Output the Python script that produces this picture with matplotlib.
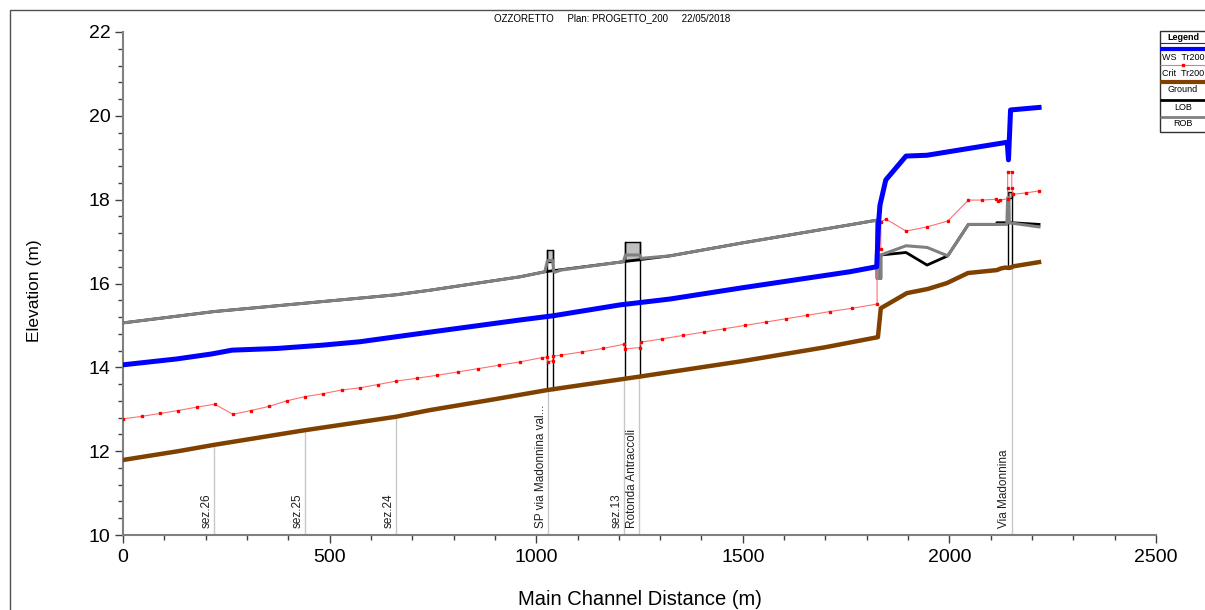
import matplotlib
matplotlib.use("Agg")
import matplotlib.pyplot as plt
from matplotlib.patches import Rectangle

plt.rcParams['font.family'] = ['Liberation Sans', 'DejaVu Sans']

# --- profile data (main channel distance, elevation) ---
ws_x = [0, 130, 215, 264, 372, 484, 573, 654, 743, 961, 1041, 1203, 1324, 1500,
        1759, 1824, 1829, 1832, 1846, 1895, 1946, 2046, 2140, 2143, 2148, 2217]
ws_y = [14.06, 14.20, 14.32, 14.41, 14.45, 14.53, 14.61, 14.72, 14.84, 15.13, 15.23,
        15.49, 15.63, 15.90, 16.28, 16.40, 17.50, 17.87, 18.47, 19.04, 19.06, 19.22,
        19.37, 18.95, 20.14, 20.20]

crit_x = [0, 45, 90, 134, 178, 222, 266, 310, 354, 396, 440, 484, 529, 573, 617, 660,
          711, 760, 810, 860, 910, 961, 1013, 1027, 1028, 1040, 1041, 1060, 1112, 1161,
          1212, 1214, 1250, 1253, 1305, 1355, 1405, 1455, 1505, 1555, 1605, 1655, 1710,
          1765, 1825, 1825, 1834, 1834, 1846, 1895, 1946, 1996, 2046, 2079, 2113, 2117,
          2122, 2141, 2141, 2141, 2151, 2151, 2154, 2185, 2217]
crit_y = [12.77, 12.83, 12.90, 12.97, 13.05, 13.12, 12.88, 12.97, 13.07, 13.20, 13.30,
          13.37, 13.46, 13.51, 13.59, 13.67, 13.74, 13.81, 13.89, 13.97, 14.05, 14.13,
          14.23, 14.25, 14.13, 14.16, 14.27, 14.29, 14.37, 14.45, 14.55, 14.44, 14.47,
          14.60, 14.68, 14.76, 14.84, 14.92, 15.00, 15.08, 15.16, 15.24, 15.33, 15.41,
          15.51, 16.80, 16.82, 17.47, 17.54, 17.25, 17.35, 17.49, 17.99, 17.99, 18.01,
          17.98, 17.99, 18.02, 18.27, 18.67, 18.67, 18.27, 18.13, 18.16, 18.21]

ground_x = [0, 134, 220, 440, 660, 743, 900, 1028, 1251, 1500, 1700, 1827, 1834, 1897,
            1948, 1994, 2045, 2115, 2125, 2135, 2145, 2155, 2217]
ground_y = [11.79, 12.00, 12.15, 12.50, 12.82, 12.98, 13.24, 13.46, 13.78, 14.15, 14.48,
            14.72, 15.41, 15.77, 15.87, 16.01, 16.25, 16.32, 16.36, 16.38, 16.37, 16.41,
            16.51]

lob_x = [0, 220, 440, 660, 743, 961, 1021, 1211, 1324, 1500, 1759, 1824, 1825, 1834,
         1834, 1895, 1946, 1996, 2046, 2113, 2115, 2151, 2217]
lob_y = [15.06, 15.33, 15.53, 15.73, 15.84, 16.16, 16.28, 16.52, 16.66, 16.97, 17.40,
         17.51, 16.12, 16.12, 16.68, 16.74, 16.44, 16.66, 17.41, 17.41, 17.45, 17.45,
         17.41]

rob_x = [0, 220, 440, 660, 743, 961, 1021, 1026, 1028, 1040, 1042, 1045, 1060, 1211,
         1216, 1250, 1254, 1324, 1500, 1759, 1824, 1825, 1834, 1834, 1895, 1946, 1996,
         2046, 2139, 2141, 2144, 2145, 2151, 2217]
rob_y = [15.06, 15.33, 15.53, 15.73, 15.84, 16.16, 16.28, 16.50, 16.55, 16.55, 16.30,
         16.27, 16.32, 16.52, 16.68, 16.68, 16.60, 16.66, 16.97, 17.40, 17.51, 16.12,
         16.12, 16.68, 16.90, 16.86, 16.66, 17.41, 17.41, 18.05, 18.05, 17.45, 17.44,
         17.35]

# bridges: left, right, deck top, low chord, ground
bridge_left = [1027, 1216, 2142]
bridge_right = [1041, 1250, 2151]
bridge_top = [16.80, 17.00, 18.19]
bridge_low = [16.52, 16.55, 18.03]
bridge_ground = [13.47, 13.78, 16.38]

# labelled cross sections
sec_x = [220, 440, 660, 1029, 1212, 1249, 2151]
sec_ground = [12.15, 12.50, 12.82, 13.46, 13.73, 13.78, 16.40]
sec_labels = ['sez.26', 'sez.25', 'sez.24', 'SP via Madonnina val...', 'sez.13',
              'Rotonda Antraccoli', 'Via Madonnina']

fig = plt.figure(figsize=(12.05, 6.10), dpi=100)
ax = fig.add_axes([123/1205, 75/610, 1033/1205, 503/610])

# section lines
for x, g, lab in zip(sec_x, sec_ground, sec_labels):
    ax.plot([x, x], [10, g], color='#c8c8c8', lw=1, zorder=1)
    ax.annotate(lab, (x, 10), xytext=(-1, 5), textcoords='offset points',
                rotation=90, ha='right', va='bottom', fontsize=8.5, color='#202020')

# bridges
for l, r, t, lo, g in zip(bridge_left, bridge_right, bridge_top, bridge_low, bridge_ground):
    ax.add_patch(Rectangle((l, lo), r - l, t - lo, facecolor='#c0c0c0',
                           edgecolor='black', lw=1, zorder=2))
    ax.plot([l, l], [g, t], color='black', lw=1, zorder=2)
    ax.plot([r, r], [g, t], color='black', lw=1, zorder=2)

ax.plot(ground_x, ground_y, color='#804000', lw=3.2, zorder=3, solid_joinstyle='round')
ax.plot(lob_x, lob_y, color='black', lw=2, zorder=4)
ax.plot(rob_x, rob_y, color='#808080', lw=2.2, zorder=5)
ax.plot(crit_x, crit_y, color='#ff7070', lw=0.8, zorder=6)
ax.plot(crit_x, crit_y, ls='none', marker='s', ms=2, color='#ff0000', zorder=6)
ax.plot(ws_x, ws_y, color='#0000ff', lw=3.6, zorder=7, solid_joinstyle='round')

ax.set_xlim(0, 2500)
ax.set_ylim(10, 22)
ax.set_xticks(range(0, 2501, 500))
ax.set_xticks(range(0, 2501, 100), minor=True)
ax.set_yticks(range(10, 23, 2))
ax.set_yticks([10 + 0.4 * i for i in range(31)], minor=True)
for s in ['top', 'right']:
    ax.spines[s].set_visible(False)
for s in ['left', 'bottom']:
    ax.spines[s].set_color('#808080')
    ax.spines[s].set_linewidth(1.5)
ax.tick_params(which='major', direction='out', length=6, width=1, color='#404040',
               labelsize=14)
ax.tick_params(which='minor', direction='out', length=3.5, width=1, color='#404040')
ax.tick_params(axis='x', pad=4)
ax.tick_params(axis='y', pad=3)
ax.set_xlabel('Main Channel Distance (m)', fontsize=14.5, labelpad=17.5)
ax.set_ylabel('Elevation (m)', fontsize=12.5)
ax.yaxis.set_label_coords(-0.078, 0.485)

fig.text(612/1205, 1 - 18/610, 'OZZORETTO     Plan: PROGETTO_200     22/05/2018',
         ha='center', va='center', fontsize=7)

# outer frame
fig.patches.append(Rectangle((10/1205, -0.1), 1.1, 0.1 + 600/610, transform=fig.transFigure,
                             fill=False, edgecolor='#505050', lw=1))

# legend box (HEC-RAS style)
lax = fig.add_axes([1160/1205, (610-132)/610, 50/1205, 101/610])
lax.set_xlim(1160, 1210)
lax.set_ylim(132, 31)
lax.axis('off')
lax.add_patch(Rectangle((1160, 31), 50, 101, facecolor='white', edgecolor='#303030',
                        lw=1, clip_on=False))
lax.plot([1160, 1210], [43, 43], color='#303030', lw=0.8, clip_on=False)
lax.plot([1160, 1210], [49, 49], color='#0000ff', lw=3, solid_capstyle='butt', clip_on=False)
lax.plot([1160, 1210], [65, 65], color='#ff7070', lw=0.8, solid_capstyle='butt', clip_on=False)
lax.plot([1183], [65], marker='s', ms=2, color='#ff0000', clip_on=False)
lax.plot([1160, 1210], [82, 82], color='#804000', lw=3, solid_capstyle='butt', clip_on=False)
lax.plot([1160, 1210], [100, 100], color='black', lw=2, solid_capstyle='butt', clip_on=False)
lax.plot([1160, 1210], [117, 117], color='#808080', lw=2, solid_capstyle='butt', clip_on=False)
leg_text = ['WS  Tr200', 'Crit  Tr200', 'Ground', 'LOB', 'ROB']
leg_y = [57, 73, 90, 108, 124]
lax.text(1183, 37, 'Legend', ha='center', va='center', fontsize=6.5, fontweight='bold')
for t, y in zip(leg_text, leg_y):
    lax.text(1183, y, t, ha='center', va='center', fontsize=6.5)

fig.savefig('out.png', dpi=100)
